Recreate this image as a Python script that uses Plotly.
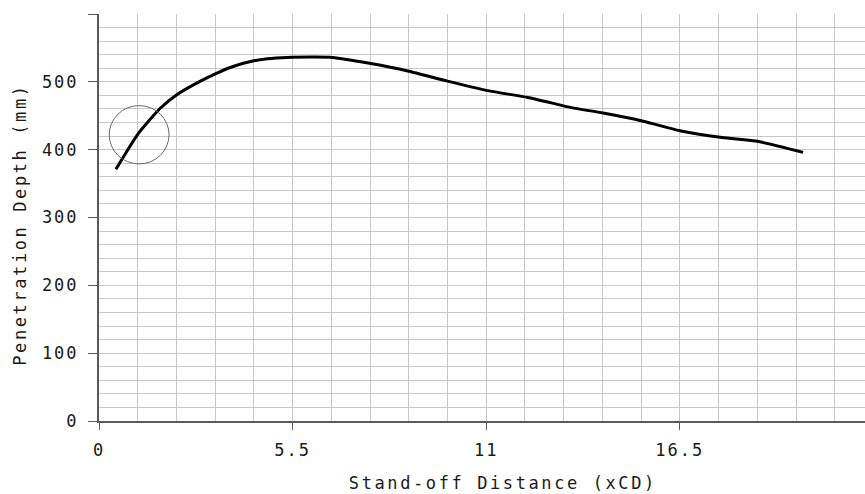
import plotly.graph_objects as go

# Data
standoff = [0.48, 1.12, 1.74, 2.21, 2.88, 3.35, 3.83, 4.4, 4.78, 5.35, 6.0, 6.63,
            7.72, 8.77, 9.9, 11.04, 12.18, 12.85, 13.42, 14.32, 15.46, 16.5,
            17.7, 18.74, 20.0]
depth = [371, 424, 461, 481, 501, 513, 523, 531, 534, 536, 536.5, 536,
         527, 516, 501, 487, 477, 469, 462, 454, 442, 428,
         418, 412, 396]

x_tickvals = [0, 5.5, 11, 16.5]
x_ticktext = ["0", "5.5", "11", "16.5"]
y_tickvals = [0, 100, 200, 300, 400, 500, 600]
y_ticktext = ["0", "100", "200", "300", "400", "500", ""]

x_title = "Stand-off Distance (xCD)"
y_title = "Penetration Depth (mm)"

# highlighted region (circle)
circle_center = (1.14, 422)
circle_radius = (0.85, 43)

FONT = "DejaVu Sans Mono"
TXT = "#1a1a1a"
GRID = "#c8c8c8"
AXIS = "#5a5a5a"

fig = go.Figure()
fig.add_trace(go.Scatter(
    x=standoff, y=depth, mode="lines",
    line=dict(color="black", width=3, shape="spline", smoothing=0.6),
    showlegend=False, hoverinfo="skip"))

fig.add_shape(type="circle", xref="x", yref="y",
              x0=circle_center[0] - circle_radius[0], x1=circle_center[0] + circle_radius[0],
              y0=circle_center[1] - circle_radius[1], y1=circle_center[1] + circle_radius[1],
              line=dict(color="#6a6a6a", width=1))

fig.update_xaxes(
    range=[0, 21.76], tickvals=x_tickvals, ticktext=x_ticktext,
    showgrid=True, gridcolor=GRID, gridwidth=1,
    minor=dict(dtick=1.1, tick0=0, showgrid=True, gridcolor=GRID, gridwidth=1),
    showline=True, linecolor=AXIS, linewidth=2,
    ticks="outside", ticklen=7, tickcolor=AXIS, tickwidth=1,
    ticklabelstandoff=6,
    tickfont=dict(family=FONT, size=17, color=TXT),
    zeroline=False, fixedrange=True)
fig.update_yaxes(
    range=[0, 600], tickvals=y_tickvals, ticktext=y_ticktext,
    showgrid=True, gridcolor=GRID, gridwidth=1,
    minor=dict(dtick=20, tick0=0, showgrid=True, gridcolor=GRID, gridwidth=1),
    showline=True, linecolor=AXIS, linewidth=2,
    ticks="outside", ticklen=9, tickcolor=AXIS, tickwidth=1,
    ticklabelstandoff=6,
    tickfont=dict(family=FONT, size=17, color=TXT),
    zeroline=False, fixedrange=True)

fig.add_annotation(text=x_title, xref="paper", yref="paper", x=0.527, y=-0.152,
                   xanchor="center", yanchor="middle", showarrow=False,
                   font=dict(family=FONT, size=17, color=TXT))
fig.add_annotation(text=y_title, xref="paper", yref="paper", x=-0.104, y=0.482,
                   xanchor="center", yanchor="middle", showarrow=False, textangle=-90,
                   font=dict(family=FONT, size=17, color=TXT))

fig.update_layout(
    width=865, height=494,
    margin=dict(l=99, r=0, t=14, b=73),
    paper_bgcolor="white", plot_bgcolor="white",
    showlegend=False)

post = (
    "document.body.style.margin='0';document.body.style.overflow='hidden';"
    "document.querySelectorAll('.xtick text, .ytick text').forEach(function(t){t.style.letterSpacing='2px';});"
    "document.querySelectorAll('.annotation-text').forEach(function(t){t.style.letterSpacing='2.6px';});"
)
fig.write_html("out.html", config={"displayModeBar": False}, post_script=post)
